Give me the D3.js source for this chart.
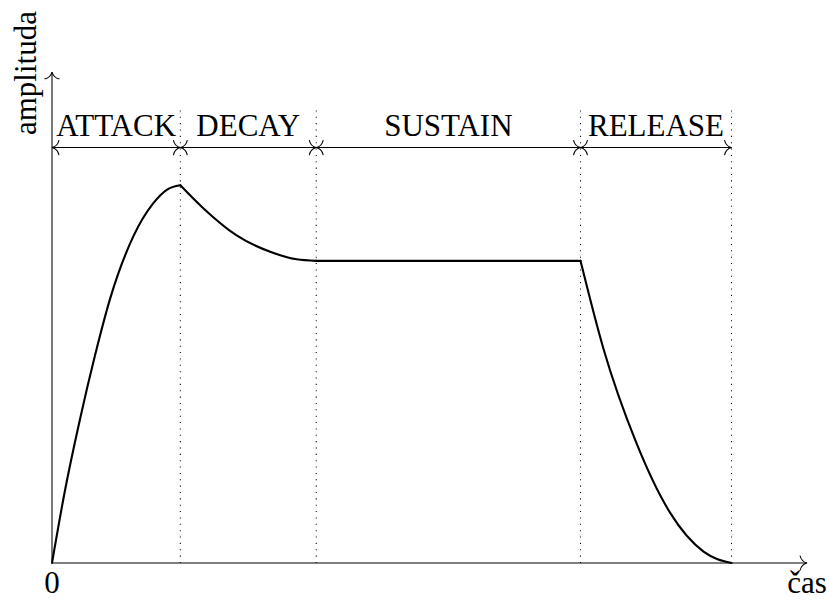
<!DOCTYPE html>
<html>
<head>
<meta charset="utf-8">
<script src="https://cdn.jsdelivr.net/npm/d3@7"></script>
<style>
  body { margin: 0; background: #fff; }
  svg { display: block; }
  text { font-family: "Liberation Serif", "DejaVu Serif", serif; }
</style>
</head>
<body>
<svg id="adsr"></svg>
<script>
// phase labels and boundaries (time units)
const phaseNames = ["ATTACK", "DECAY", "SUSTAIN", "RELEASE"];
const phaseBounds = [0, 1.7, 3.5, 7, 9];

// envelope (time, amplitude)
const attackPts = [[0, 0], [0.17, 0.95], [0.37, 1.9], [0.57, 2.75], [0.77, 3.5], [1.08, 4.33], [1.34, 4.76], [1.52, 4.94], [1.7, 5]];
const decayPts = [[1.7, 5], [2.0, 4.7], [2.44, 4.34], [2.89, 4.12], [3.24, 4.02], [3.5, 4]];
const sustainPts = [[3.5, 4], [7, 4]];
const releasePts = [[7, 4], [7.3, 2.85], [7.74, 1.59], [8.19, 0.66], [8.63, 0.15], [9, 0]];

const xMax = 10, yMax = 6.5;   // axis lengths
const spanY = 5.5;             // level of the phase arrows
const guideTop = 6;            // top of dotted guides

const width = 829, height = 600;
const x = d3.scaleLinear([0, xMax], [52, 807]);
const y = d3.scaleLinear([0, yMax], [563, 72]);

const svg = d3.select("#adsr")
  .attr("width", width)
  .attr("height", height)
  .attr("viewBox", [0, 0, width, height]);

const fs = 31;
const thin = 1.06;

// tikz "to" style open arrow head, tip at 0,0 pointing right
const tip = "M-7,-7.5 C-6,-3 -2.5,-0.6 0,0 C-2.5,0.6 -6,3 -7,7.5";
function head(g, px, py, angle) {
  g.append("path")
    .attr("d", tip)
    .attr("transform", `translate(${px},${py}) rotate(${angle})`)
    .attr("fill", "none")
    .attr("stroke", "#000")
    .attr("stroke-width", thin);
}

// dotted guides
svg.append("g")
  .selectAll("line")
  .data(phaseBounds.slice(1))
  .join("line")
    .attr("x1", d => x(d)).attr("x2", d => x(d))
    .attr("y1", y(0)).attr("y2", y(guideTop))
    .attr("stroke", "#000")
    .attr("stroke-width", thin)
    .attr("stroke-dasharray", "1.06,5.3");

// axes
const axes = svg.append("g");
axes.append("line")
  .attr("x1", x(0)).attr("x2", x(xMax))
  .attr("y1", y(0)).attr("y2", y(0))
  .attr("stroke", "#000").attr("stroke-width", thin);
axes.append("line")
  .attr("x1", x(0)).attr("x2", x(0))
  .attr("y1", y(0)).attr("y2", y(yMax))
  .attr("stroke", "#000").attr("stroke-width", thin);
head(axes, x(xMax), y(0), 0);
head(axes, x(0), y(yMax), -90);

// phase spans with arrows at both ends
const spans = svg.append("g");
d3.pairs(phaseBounds).forEach(([a, b], i) => {
  spans.append("line")
    .attr("x1", x(a)).attr("x2", x(b))
    .attr("y1", y(spanY)).attr("y2", y(spanY))
    .attr("stroke", "#000").attr("stroke-width", thin);
  head(spans, x(a), y(spanY), 180);
  head(spans, x(b), y(spanY), 0);
  spans.append("text")
    .attr("x", (x(a) + x(b)) / 2)
    .attr("y", y(spanY) - 12)
    .attr("text-anchor", "middle")
    .attr("font-size", fs)
    .text(phaseNames[i]);
});

// envelope curve
const line = d3.line()
  .x(d => x(d[0]))
  .y(d => y(d[1]))
  .curve(d3.curveMonotoneX);

svg.append("g")
  .selectAll("path")
  .data([attackPts, decayPts, sustainPts, releasePts])
  .join("path")
    .attr("d", line)
    .attr("fill", "none")
    .attr("stroke", "#000")
    .attr("stroke-width", 2.1)
    .attr("stroke-linejoin", "round")
    .attr("stroke-linecap", "round");

// axis labels
svg.append("text")
  .attr("x", x(0)).attr("y", 593)
  .attr("text-anchor", "middle")
  .attr("font-size", fs)
  .text("0");

svg.append("text")
  .attr("x", x(xMax)).attr("y", 593)
  .attr("text-anchor", "middle")
  .attr("font-size", fs)
  .text("čas");

svg.append("text")
  .attr("transform", `translate(36,135) rotate(-90)`)
  .attr("text-anchor", "start")
  .attr("font-size", fs)
  .text("amplituda");
</script>
</body>
</html>
